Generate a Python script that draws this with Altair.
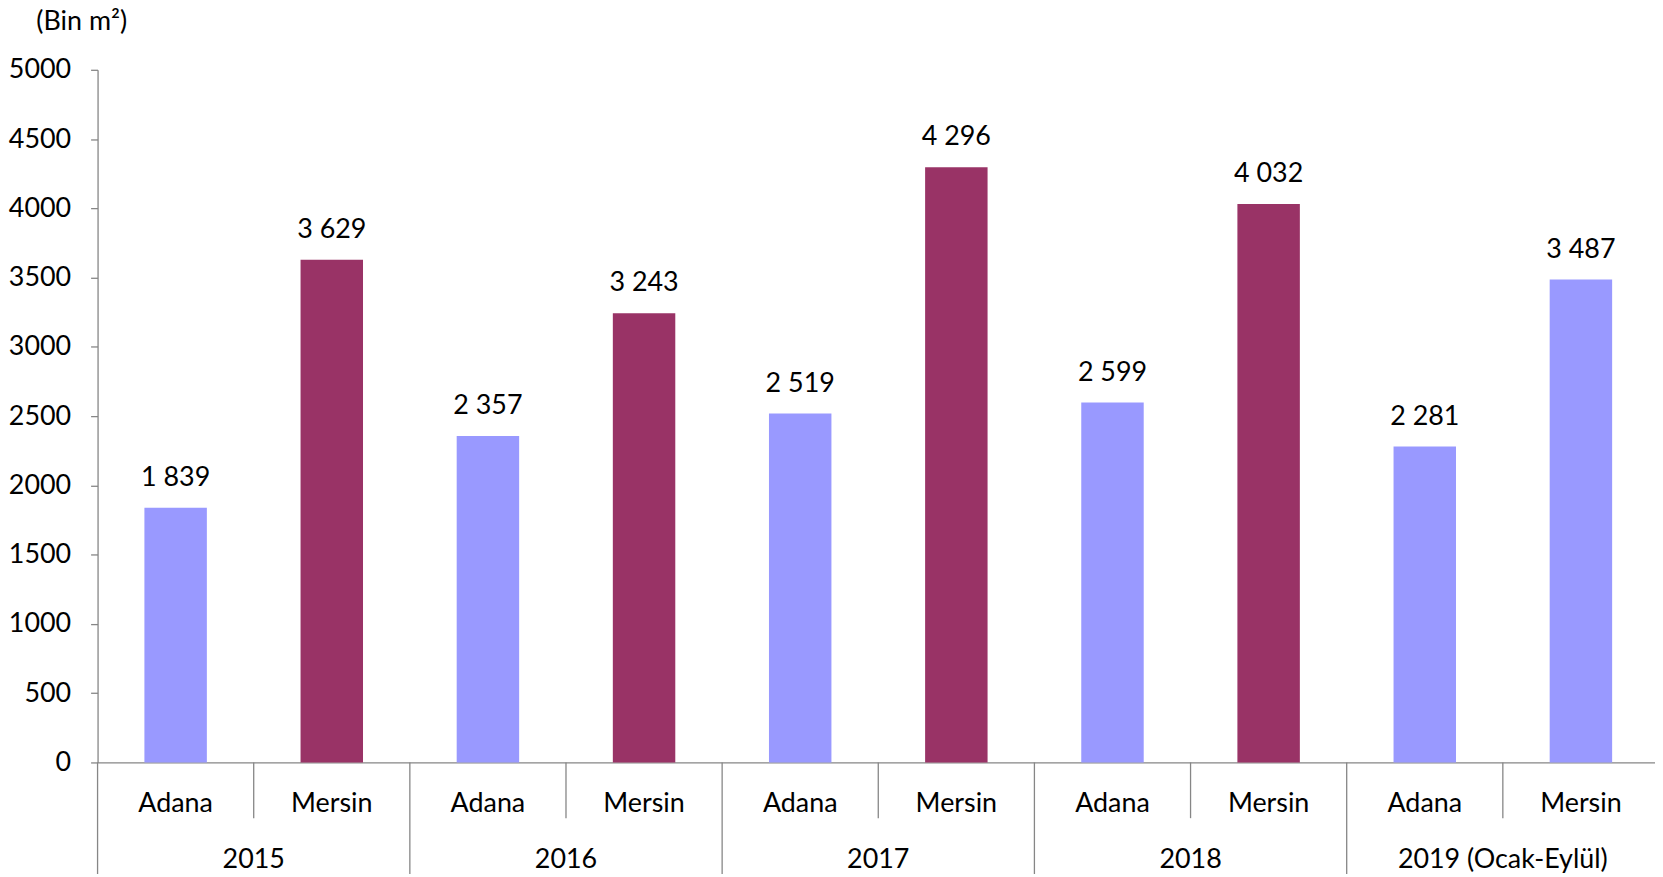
import altair as alt
import pandas as pd

years = ["2015", "2016", "2017", "2018", "2019 (Ocak-Eylül)"]
cities = ["Adana", "Mersin"]
adana = [1839, 2357, 2519, 2599, 2281]
mersin = [3629, 3243, 4296, 4032, 3487]
y_ticks = list(range(0, 5001, 500))

rows = []
for i, yr in enumerate(years):
    for c, vals in zip(cities, [adana, mersin]):
        v = vals[i]
        rows.append({"year": yr, "city": c, "key": yr + "|" + c, "value": v,
                     "label": f"{v:,}".replace(",", " ")})
df = pd.DataFrame(rows)
keys = list(df["key"])
ydf = pd.DataFrame({"year": years})

W, H = 1563, 696
RANGE_W = 1569
FONT = "Lato"
FS = 27
GRAY = "#868686"
LIGHT = "#9999FF"
DARK = "#993366"

kscale = alt.Scale(domain=keys, paddingInner=0.6, paddingOuter=0.3, rangeMin=0, rangeMax=RANGE_W)
yscale = alt.Scale(domain=years, paddingInner=0, paddingOuter=0, rangeMin=0, rangeMax=RANGE_W)

xband = alt.X("key:N", sort=keys, scale=kscale,
              axis=alt.Axis(labels=False, ticks=False, title=None, domainColor=GRAY,
                            domainWidth=1.3, grid=False))
yq = alt.Y("value:Q", scale=alt.Scale(domain=[0, 5000], nice=False),
           axis=alt.Axis(values=y_ticks, format="d", title="(Bin m²)", titleAngle=0,
                         titleX=-62, titleY=-48, titleAlign="left",
                         titleBaseline="middle", titleFont=FONT, titleFontSize=FS,
                         titleFontWeight="normal", titleColor="black",
                         labelFont=FONT, labelFontSize=FS, labelColor="black",
                         labelPadding=20, tickSize=7, tickColor=GRAY,
                         domainColor=GRAY, domainWidth=1.3, tickWidth=1.3,
                         grid=False))

is_dark = (alt.datum.city == "Mersin") & (alt.datum.year != years[-1])

base = alt.Chart(df)
bars = base.mark_bar().encode(
    x=xband, y=yq,
    color=alt.condition(is_dark, alt.value(DARK), alt.value(LIGHT)),
)
vlabels = base.mark_text(font=FONT, fontSize=FS, color="black",
                         baseline="middle", dy=-30).encode(
    x=alt.X("key:N", sort=keys, scale=kscale, axis=None), y="value:Q", text="label:N")
clabels = base.mark_text(font=FONT, fontSize=FS, color="black",
                         baseline="middle").encode(
    x=alt.X("key:N", sort=keys, scale=kscale, axis=None),
    y=alt.value(H + 42), text="city:N")

ybase = alt.Chart(ydf)
ylabels = ybase.mark_text(font=FONT, fontSize=FS, color="black",
                          baseline="middle").encode(
    x=alt.X("year:N", sort=years, scale=yscale, axis=None),
    y=alt.value(H + 98), text="year:N")
yrules = ybase.mark_rule(color=GRAY, strokeWidth=1.3).encode(
    x=alt.X("year:N", sort=years, scale=yscale, axis=None, bandPosition=0),
    y=alt.value(H), y2=alt.value(H + 120))
crules = ybase.mark_rule(color=GRAY, strokeWidth=1.3).encode(
    x=alt.X("year:N", sort=years, scale=yscale, axis=None, bandPosition=0.5),
    y=alt.value(H), y2=alt.value(H + 56))

chart = alt.layer(bars, vlabels, clabels, ylabels, yrules, crules).resolve_scale(
    x="independent"
).properties(
    width=W, height=H,
    autosize=alt.AutoSizeParams(type="none"),
    padding={"left": 90, "top": 60, "right": 2, "bottom": 110},
    background="white",
).configure_view(stroke=None)

chart.save("out.html", embed_options={"renderer": "svg", "actions": False})
